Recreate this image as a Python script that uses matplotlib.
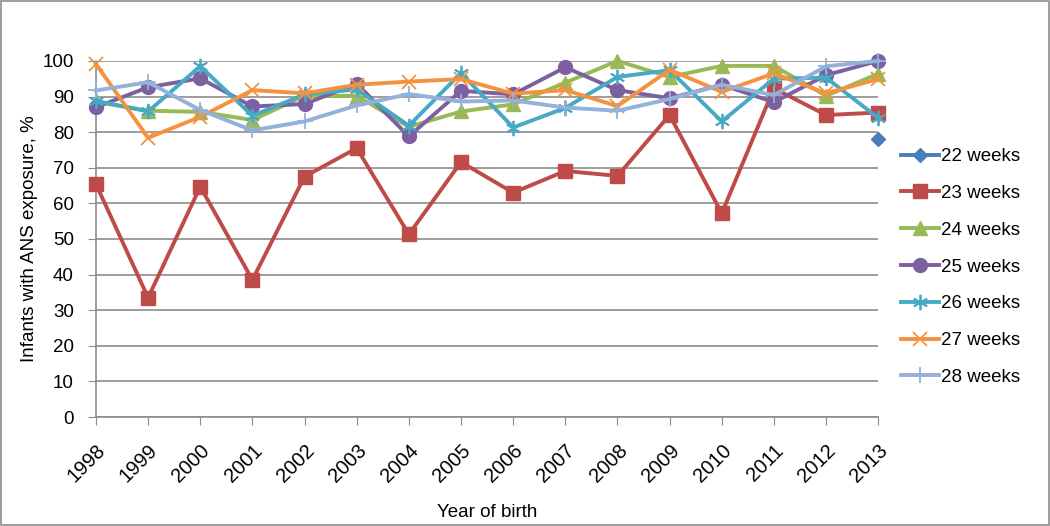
import matplotlib.pyplot as plt
from matplotlib.patches import Rectangle

plt.rcParams['font.family'] = ['Liberation Sans', 'DejaVu Sans']

years = list(range(1998, 2014))

w22 = [None] * 15 + [78.2]
w23 = [65.4, 33.5, 64.7, 38.5, 67.5, 75.5, 51.3, 71.6, 63.0, 69.1, 67.7, 84.8, 57.2, 92.3, 84.8, 85.5]
w24 = [88.5, 86.0, 85.7, 83.4, 90.2, 90.2, 81.5, 85.8, 87.8, 93.9, 100.0, 95.5, 98.6, 98.6, 90.2, 96.4]
w25 = [87.0, 92.6, 95.1, 87.2, 87.9, 93.6, 78.8, 91.6, 90.6, 98.2, 91.8, 89.5, 93.3, 88.4, 96.0, 100.0]
w26 = [88.8, 85.8, 98.5, 84.6, 90.6, 92.0, 81.8, 96.6, 81.3, 86.8, 95.5, 97.4, 83.0, 95.0, 95.3, 84.0]
w27 = [99.1, 78.4, 84.3, 91.8, 90.9, 93.3, 94.2, 94.9, 90.8, 91.8, 87.3, 97.5, 91.3, 96.5, 90.9, 94.9]
w28 = [91.7, 94.0, 86.2, 80.5, 83.0, 87.5, 90.7, 88.6, 88.9, 86.9, 86.0, 89.3, 93.3, 90.4, 98.5, 100.0]

labels = ["22 weeks", "23 weeks", "24 weeks", "25 weeks", "26 weeks", "27 weeks", "28 weeks"]
series = [w22, w23, w24, w25, w26, w27, w28]
colors = ["#4A7EBB", "#BE4B48", "#98B954", "#7D60A0", "#46AAC5", "#F59240", "#93B1DB"]
markers = ["D", "s", "^", "o", (6, 2, 0), "x", "+"]
msizes = [7, 10, 10, 10, 11, 10, 12]

fig = plt.figure(figsize=(10.5, 5.26), dpi=100)
fig.patches.append(Rectangle((0.001, 0.001), 0.998, 0.997, transform=fig.transFigure,
                             fill=False, edgecolor="#8c8c8c", linewidth=1.2))
ax = fig.add_axes([0.0914, 0.2072, 0.745, 0.677])

for vals, lab, c, m, ms in zip(series, labels, colors, markers, msizes):
    xs = [x for x, v in zip(years, vals) if v is not None]
    ys = [v for v in vals if v is not None]
    filled = m not in ("x", "+") and not isinstance(m, tuple)
    ax.plot(xs, ys, color=c, linewidth=2.8, marker=m, markersize=ms,
            markeredgewidth=1.0 if filled else 1.3, markerfacecolor=c,
            markeredgecolor=c, label=lab, clip_on=False, zorder=3)

fs = 13.5
ax.set_xlim(1998, 2013)
ax.set_ylim(0, 100)
ax.set_yticks(range(0, 101, 10))
ax.set_xticks(years)
ax.set_xticklabels([str(y) for y in years], rotation=45, ha="right", va="top",
                   rotation_mode="anchor", fontsize=14.5)
ax.tick_params(axis="y", labelsize=fs, length=6, color="#8c8c8c", direction="out", pad=10)
ax.tick_params(axis="x", length=6, color="#8c8c8c", direction="out", pad=11)
ax.grid(axis="y", color="#8c8c8c", linewidth=1.2)
ax.set_axisbelow(True)
for s in ["top", "right"]:
    ax.spines[s].set_visible(False)
for s in ["left", "bottom"]:
    ax.spines[s].set_color("#8c8c8c")
    ax.spines[s].set_linewidth(1.2)

ax.set_ylabel("Infants with ANS exposure, %", fontsize=fs, labelpad=3)
ax.set_xlabel("Year of birth", fontsize=fs, labelpad=13)

fig.legend(loc="upper left", bbox_to_anchor=(0.851, 0.733), frameon=False,
           fontsize=fs, handlelength=2.0, handletextpad=0.15,
           labelspacing=1.05, borderaxespad=0)

fig.savefig("out.png", dpi=100)
